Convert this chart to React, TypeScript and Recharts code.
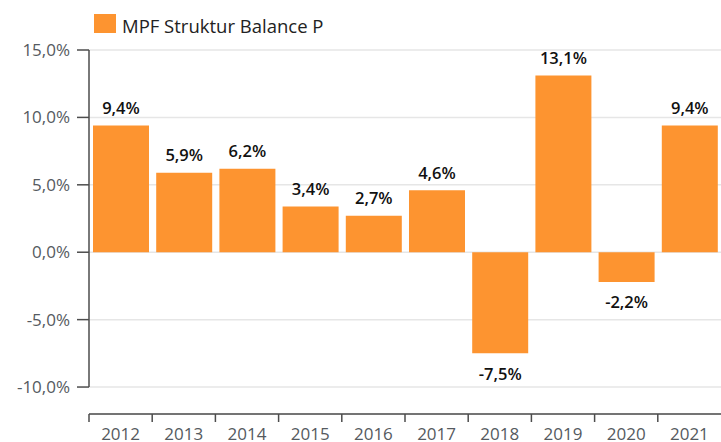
import React from 'react';
import { BarChart, Bar, XAxis, YAxis, CartesianGrid, LabelList, ReferenceLine, Legend } from 'recharts';

const years = ['2012', '2013', '2014', '2015', '2016', '2017', '2018', '2019', '2020', '2021'];
const returns = [9.4, 5.9, 6.2, 3.4, 2.7, 4.6, -7.5, 13.1, -2.2, 9.4];
const yTicks = [-10, -5, 0, 5, 10, 15];
const yMin = -12;
const seriesName = 'MPF Struktur Balance P';

const data = years.map((year, i) => ({ year, value: returns[i] }));

const fmt = (v: number) => v.toFixed(1).replace('.', ',') + '%';

const W = 721;
const H = 442;
const Y_AXIS_W = 89;
const BAND = (W - Y_AXIS_W) / years.length;
const FONT = '"Open Sans", "Noto Sans", sans-serif';
const AXIS_COLOR = '#4d4d4d';
const TEXT_GRAY = '#555a60';
const BAR_COLOR = '#FD9430';

const XTick = (props: any) => {
  const { x, y, payload } = props;
  const bx = x - BAND / 2;
  return (
    <g>
      <line x1={bx} x2={bx} y1={y - 8} y2={y} stroke={AXIS_COLOR} strokeWidth={1.5} />
      <text x={x} y={y + 11} textAnchor="middle" dominantBaseline="central" fill={TEXT_GRAY} fontSize={17} fontFamily={FONT}>
        {payload.value}
      </text>
    </g>
  );
};

const BarLabel = (props: any) => {
  const vb = props.viewBox || {};
  const x = props.x ?? vb.x;
  const y = props.y ?? vb.y;
  const width = props.width ?? vb.width;
  const height = props.height ?? vb.height;
  const value = Number(props.value);
  const top = Math.min(y, y + height);
  const bottom = Math.max(y, y + height);
  const cy = value >= 0 ? top - 18 : bottom + 20;
  return (
    <text x={x + width / 2} y={cy} textAnchor="middle" dominantBaseline="central" fill="#111" fontSize={16.5} fontWeight={600} fontFamily={FONT}>
      {fmt(value)}
    </text>
  );
};

const LegendContent = (props: any) => {
  const items = props.payload || [];
  return (
    <div style={{ display: 'flex', alignItems: 'flex-start', fontFamily: FONT }}>
      {items.map((it: any, i: number) => (
        <div key={i} style={{ display: 'flex', alignItems: 'flex-start' }}>
          <div style={{ width: 22, height: 19, background: it.color, marginTop: 1 }} />
          <span style={{ marginLeft: 6, fontSize: 18.5, lineHeight: '25px', color: '#222' }}>{it.value}</span>
        </div>
      ))}
    </div>
  );
};

export default function App() {
  return (
    <div style={{ position: 'absolute', left: 0, top: 0, width: W, height: H, background: '#fff', fontFamily: FONT }}>
      <BarChart width={W} height={H} data={data} margin={{ top: 50, right: 0, bottom: 0, left: 0 }} style={{ fontFamily: FONT }}>
        <CartesianGrid vertical={false} stroke="#e6e6e6" strokeWidth={1.5} />
        <XAxis
          dataKey="year"
          height={28}
          tickSize={8}
          tickMargin={0}
          tickLine={false}
          axisLine={{ stroke: AXIS_COLOR, strokeWidth: 1.5 }}
          tick={<XTick />}
          interval={0}
        />
        <YAxis
          width={Y_AXIS_W}
          domain={[yMin, yTicks[yTicks.length - 1]]}
          ticks={yTicks}
          tickFormatter={(v: number) => fmt(v)}
          tickSize={12}
          tickMargin={7}
          tickLine={{ stroke: AXIS_COLOR, strokeWidth: 1.5 }}
          axisLine={false}
          tick={{ fill: TEXT_GRAY, fontSize: 17, fontFamily: FONT }}
          allowDataOverflow
        />
        <Legend
          layout="horizontal"
          verticalAlign="middle"
          align="center"
          content={<LegendContent />}
          wrapperStyle={{ top: 13, left: 94, width: 'auto', height: 'auto' }}
        />
        <ReferenceLine
          segment={[
            { x: years[0], y: yTicks[0] },
            { x: years[0], y: yTicks[yTicks.length - 1] },
          ]}
          position="start"
          stroke={AXIS_COLOR}
          strokeWidth={1.5}
        />
        <Bar dataKey="value" name={seriesName} fill={BAR_COLOR} barSize={56} isAnimationActive={false}>
          <LabelList dataKey="value" content={<BarLabel />} />
        </Bar>
      </BarChart>
    </div>
  );
}
